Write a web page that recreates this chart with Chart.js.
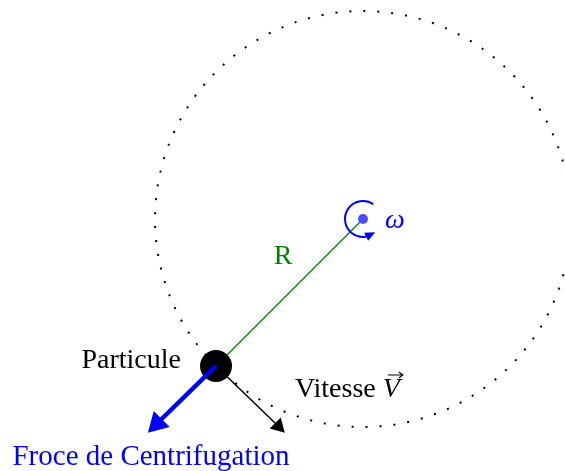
<!DOCTYPE html>
<html lang="fr">
<head>
<meta charset="UTF-8" />
<title>Force centrifuge</title>
<style>
  html, body { margin: 0; padding: 0; background: #fff; }
</style>
</head>
<body>
<canvas id="myChart" width="565" height="471"></canvas>
<script src="https://cdn.jsdelivr.net/npm/chart.js"></script>
<script>
// figure units: rotation centre at (0,0), orbit radius 3
const centre = [0, 0];
const orbitRadius = 3;
const particle = [-2.12, -2.12];
const forceHead = [-2.97, -2.95];     // centre of the blue arrow head
const velocityHead = [-1.22, -2.99];  // centre of the black arrow head
const omegaArc = [-55, 80, 47];       // start, end, arrow tip (degrees, canvas)
const labelTexts = ["Particule", "Vitesse ", "V", "Froce de Centrifugation", "R", "ω"];

const pt = (p) => ({ x: p[0], y: p[1] });
const rad = (d) => (d * Math.PI) / 180;
const FONT = '"Liberation Serif", "DejaVu Serif", serif';

const figure = {
  id: "figure",
  beforeDatasetsDraw(chart) {
    const { ctx, scales: { x, y } } = chart;
    const cx = x.getPixelForValue(centre[0]);
    const cy = y.getPixelForValue(centre[1]);
    const r = x.getPixelForValue(orbitRadius) - x.getPixelForValue(0);
    ctx.save();
    ctx.setLineDash([2, 12]);
    ctx.lineWidth = 2;
    ctx.strokeStyle = "#000";
    ctx.beginPath();
    ctx.arc(cx, cy, r, 0, 2 * Math.PI);
    ctx.stroke();
    ctx.restore();
  },
  afterDatasetsDraw(chart) {
    const { ctx, scales: { x, y } } = chart;
    const cx = x.getPixelForValue(centre[0]);
    const cy = y.getPixelForValue(centre[1]);

    // rotation arrow around the centre
    const ar = 18;
    ctx.save();
    ctx.strokeStyle = "rgb(0,0,255)";
    ctx.fillStyle = "rgb(0,0,255)";
    ctx.lineWidth = 2;
    ctx.beginPath();
    ctx.arc(cx, cy, ar, rad(omegaArc[0]), rad(omegaArc[1]), true);
    ctx.stroke();
    const tx = cx + ar * Math.cos(rad(omegaArc[2])), ty = cy + ar * Math.sin(rad(omegaArc[2]));
    const bx = cx + ar * Math.cos(rad(omegaArc[1])), by = cy + ar * Math.sin(rad(omegaArc[1]));
    let ux = tx - bx, uy = ty - by;
    const len = Math.hypot(ux, uy);
    ux /= len; uy /= len;
    ctx.beginPath();
    ctx.moveTo(tx, ty);
    ctx.lineTo(bx - uy * 4.5, by + ux * 4.5);
    ctx.lineTo(bx + uy * 4.5, by - ux * 4.5);
    ctx.closePath();
    ctx.fill();
    ctx.restore();

    // labels
    const X = (v) => x.getPixelForValue(v);
    const Y = (v) => y.getPixelForValue(v);
    ctx.save();
    ctx.textBaseline = "alphabetic";
    ctx.font = "28px " + FONT;

    ctx.fillStyle = "#000";
    ctx.textAlign = "right";
    ctx.fillText(labelTexts[0], X(-2.625), Y(-2.149));

    ctx.textAlign = "left";
    const vx = X(-0.981), vy = Y(-2.567);
    ctx.fillText(labelTexts[1], vx, vy);
    const w1 = ctx.measureText(labelTexts[1]).width;
    ctx.font = "italic 28px " + FONT;
    ctx.fillText(labelTexts[2], vx + w1, vy);
    const w2 = ctx.measureText(labelTexts[2]).width;
    // vector arrow over V
    const ax0 = vx + w1 + 5, ax1 = vx + w1 + w2 + 3, ay = vy - 22;
    ctx.strokeStyle = "#000";
    ctx.lineWidth = 1.1;
    ctx.beginPath();
    ctx.moveTo(ax0, ay);
    ctx.lineTo(ax1, ay);
    ctx.moveTo(ax1 - 4, ay - 3);
    ctx.lineTo(ax1, ay);
    ctx.lineTo(ax1 - 4, ay + 3);
    ctx.stroke();

    ctx.font = "29px " + FONT;
    ctx.fillStyle = "rgb(0,0,255)";
    ctx.textAlign = "center";
    ctx.fillText(labelTexts[3], X(-3.058), Y(-3.548));

    ctx.font = "28px " + FONT;
    ctx.fillStyle = "rgb(0,128,0)";
    ctx.fillText(labelTexts[4], X(-1.154), Y(-0.649));

    ctx.fillStyle = "rgb(0,0,255)";
    ctx.textAlign = "left";
    ctx.font = "italic 28px " + FONT;
    ctx.fillText(labelTexts[5], X(0.317), Y(-0.13));
    ctx.restore();
  }
};

const ctx = document.getElementById("myChart").getContext("2d");
new Chart(ctx, {
  type: "scatter",
  data: {
    datasets: [
      {
        label: "force",
        data: [pt(particle), pt(forceHead)],
        showLine: true,
        borderColor: "rgb(0,0,255)",
        backgroundColor: "rgb(0,0,255)",
        borderWidth: 4.5,
        pointRadius: [0, 13],
        pointStyle: "triangle",
        rotation: 225,
        pointBorderWidth: 0,
        order: 0,
      },
      {
        label: "particule",
        data: [pt(particle)],
        backgroundColor: "#000",
        borderWidth: 0,
        pointRadius: 16,
        order: 1,
      },
      {
        label: "centre",
        data: [pt(centre)],
        backgroundColor: "rgb(77,77,255)",
        borderWidth: 0,
        pointRadius: 5,
        order: 1,
      },
      {
        label: "vitesse",
        data: [pt(particle), pt(velocityHead)],
        showLine: true,
        borderColor: "#000",
        backgroundColor: "#000",
        borderWidth: 1.5,
        pointRadius: [0, 9],
        pointStyle: "triangle",
        rotation: 135,
        pointBorderWidth: 0,
        order: 2,
      },
      {
        label: "rayon",
        data: [pt(particle), pt(centre)],
        showLine: true,
        borderColor: "rgb(0,128,0)",
        borderWidth: 1.2,
        pointRadius: 0,
        order: 3,
      },
    ],
  },
  options: {
    responsive: false,
    animation: false,
    devicePixelRatio: 1,
    layout: { padding: 0, autoPadding: false },
    scales: {
      x: { type: "linear", min: -5.236, max: 2.914, display: false },
      y: { type: "linear", min: -3.635, max: 3.159, display: false },
    },
    plugins: { legend: { display: false }, tooltip: { enabled: false } },
  },
  plugins: [figure],
});
</script>
</body>
</html>
